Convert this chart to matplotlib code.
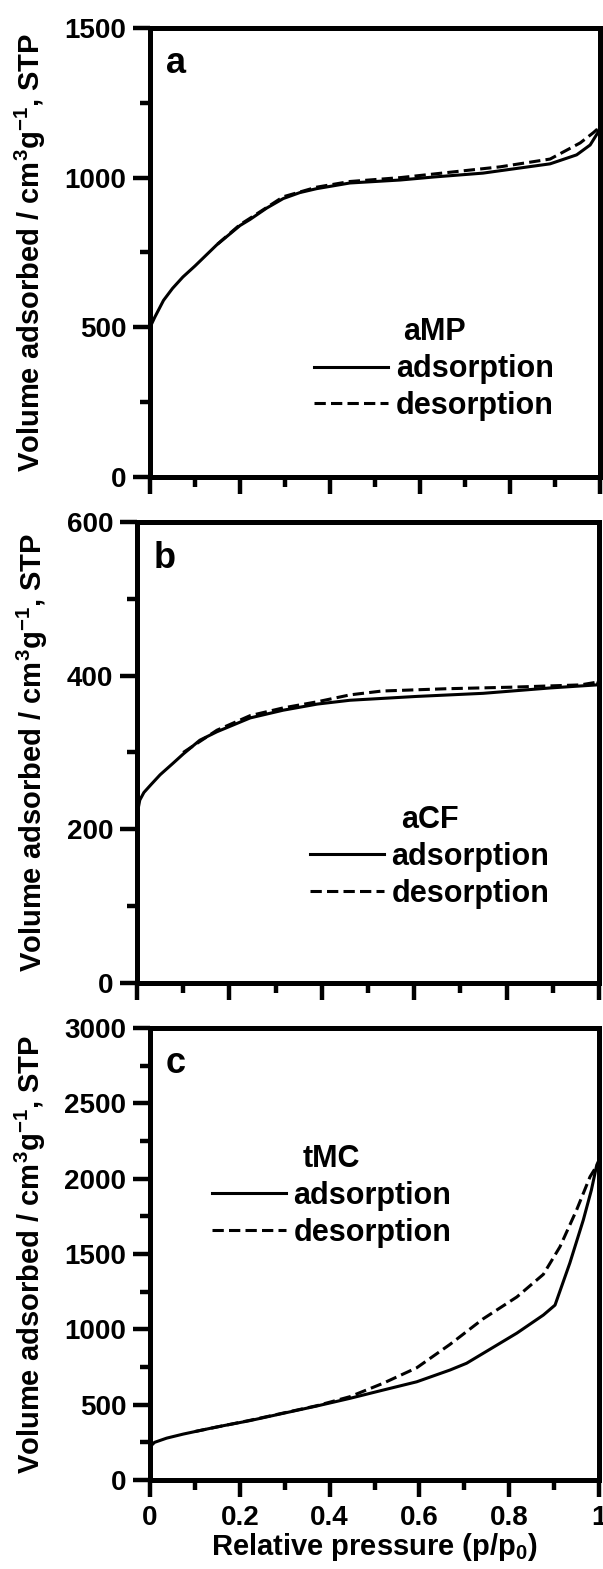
import numpy as np
import matplotlib.pyplot as plt
from matplotlib.ticker import MultipleLocator

plt.rcParams['font.family'] = ['Liberation Sans', 'DejaVu Sans']
plt.rcParams['font.weight'] = 'bold'
plt.rcParams['axes.labelweight'] = 'bold'
plt.rcParams['mathtext.fontset'] = 'custom'
plt.rcParams['mathtext.rm'] = 'Liberation Sans:bold'
plt.rcParams['mathtext.it'] = 'Liberation Sans:bold'
plt.rcParams['mathtext.default'] = 'regular'

# aMP isotherm
amp_ads_p = [0, 0.011, 0.03, 0.05, 0.073, 0.1, 0.148, 0.2, 0.222, 0.259, 0.296, 0.333,
             0.37, 0.444, 0.556, 0.63, 0.74, 0.778, 0.889, 0.948, 0.978, 0.995, 1.0]
amp_ads_v = [500, 535, 590, 630, 668, 705, 775, 840, 860, 898, 930, 950,
             963, 982, 992, 1002, 1015, 1023, 1046, 1076, 1109, 1150, 1170]
amp_des_p = [0.15, 0.2, 0.222, 0.296, 0.37, 0.444, 0.556, 0.63, 0.778, 0.889, 0.956,
             0.985, 1.0]
amp_des_v = [778, 843, 864, 936, 968, 987, 1000, 1012, 1036, 1062, 1116,
             1150, 1170]

# aCF isotherm
acf_ads_p = [0, 0.006, 0.015, 0.03, 0.05, 0.078, 0.1, 0.136, 0.173, 0.245, 0.316,
             0.39, 0.461, 0.606, 0.749, 0.894, 0.996, 1.0]
acf_ads_v = [219, 238, 248, 258, 271, 286, 298, 316, 327, 345, 355,
             363, 368, 373, 377, 384, 388, 395]
acf_des_p = [0.1, 0.173, 0.245, 0.316, 0.39, 0.461, 0.53, 0.67, 0.81, 0.96, 1.0]
acf_des_v = [300, 329, 348, 358, 366, 375, 380, 383, 385, 388, 392]

# tMC isotherm
tmc_ads_p = [0, 0.01, 0.037, 0.074, 0.148, 0.222, 0.297, 0.371, 0.445, 0.519, 0.594,
             0.668, 0.705, 0.742, 0.817, 0.876, 0.902, 0.935, 0.965, 0.983, 0.995, 1.0]
tmc_ads_v = [221, 250, 278, 305, 352, 394, 443, 491, 542, 597, 652,
             730, 775, 841, 975, 1095, 1161, 1440, 1726, 1925, 2091, 2124]
tmc_des_p = [0.1, 0.222, 0.371, 0.445, 0.519, 0.594, 0.668, 0.742, 0.817, 0.876,
             0.913, 0.95, 0.98, 1.0]
tmc_des_v = [322, 396, 493, 553, 642, 745, 900, 1070, 1215, 1365,
             1548, 1792, 2013, 2110]

panels = [
    dict(tag='a', name='aMP', ads=(amp_ads_p, amp_ads_v), des=(amp_des_p, amp_des_v),
         ymax=1500, major=500, minor=250,
         rect=[0.2488, 0.6960, 0.7463, 0.2862], leg=(0.631, 0.24)),
    dict(tag='b', name='aCF', ads=(acf_ads_p, acf_ads_v), des=(acf_des_p, acf_des_v),
         ymax=600, major=200, minor=100,
         rect=[0.2272, 0.3735, 0.7662, 0.2938], leg=(0.634, 0.273)),
    dict(tag='c', name='tMC', ads=(tmc_ads_p, tmc_ads_v), des=(tmc_des_p, tmc_des_v),
         ymax=3000, major=500, minor=250,
         rect=[0.2488, 0.0567, 0.7446, 0.2881], leg=(0.405, 0.628)),
]

fig = plt.figure(figsize=(6.03, 15.69), dpi=100)

for i, pnl in enumerate(panels):
    ax = fig.add_axes(pnl['rect'])
    ax.plot(*pnl['ads'], color='black', lw=2.2, ls='-', label='adsorption')
    ax.plot(*pnl['des'], color='black', lw=2.2, ls=(0, (3.7, 1.7)), label='desorption')

    ax.set_xlim(0, 1)
    ax.set_ylim(0, pnl['ymax'])
    ax.xaxis.set_major_locator(MultipleLocator(0.2))
    ax.xaxis.set_minor_locator(MultipleLocator(0.1))
    ax.yaxis.set_major_locator(MultipleLocator(pnl['major']))
    ax.yaxis.set_minor_locator(MultipleLocator(pnl['minor']))
    ax.xaxis.set_major_formatter(plt.FuncFormatter(lambda v, _: '%g' % v))

    for sp in ax.spines.values():
        sp.set_linewidth(3.6)
    ax.tick_params(which='major', direction='out', length=12, width=3.2,
                   labelsize=20, pad=5)
    ax.tick_params(axis='x', which='major', pad=6)
    ax.tick_params(which='minor', direction='out', length=7, width=3.2)
    ax.tick_params(top=False, right=False)
    if i < 2:
        ax.tick_params(labelbottom=False)
    else:
        ax.set_xlabel('Relative pressure (p/p$_0$)', fontsize=21, labelpad=0)

    ax.set_ylabel('Volume adsorbed / cm$^3$g$^{-1}$, STP', fontsize=21, labelpad=12)
    ax.text(0.035, 0.9, pnl['tag'], transform=ax.transAxes, fontsize=26,
            fontweight='bold', va='baseline')

    leg = ax.legend(loc='center', bbox_to_anchor=pnl['leg'], frameon=False,
                    title=pnl['name'], fontsize=22, title_fontsize=22,
                    handlelength=2.4, handletextpad=0.26, labelspacing=0.22,
                    borderpad=0, borderaxespad=0)
    leg.get_title().set_fontweight('bold')

fig.savefig('out.png', dpi=100)
